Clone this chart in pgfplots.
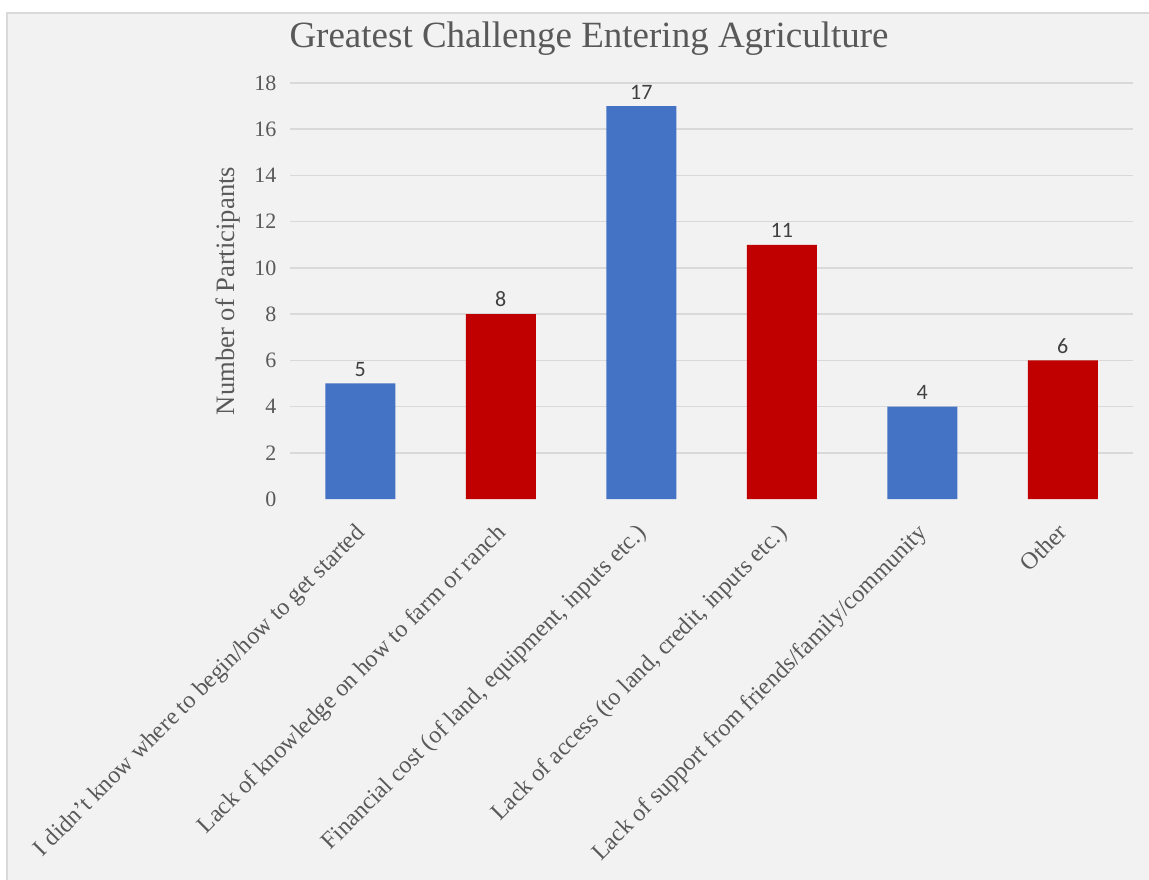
\documentclass[border=0pt]{standalone}
\usepackage{pgfplots}
\pgfplotsset{compat=1.18}
\usepackage{fontspec}
\setmainfont{Liberation Serif}
\newfontfamily\calibri{Carlito}
\definecolor{bgc}{HTML}{F2F2F2}
\definecolor{bordc}{HTML}{D9D9D9}
\definecolor{gridc}{HTML}{D9D9D9}
\definecolor{txt}{HTML}{595959}
\definecolor{lbl}{HTML}{404040}
\definecolor{cblue}{HTML}{4472C4}
\definecolor{cred}{HTML}{C00000}
\begin{document}
\begin{tikzpicture}
\useasboundingbox (0,0) rectangle (574.5pt,439.5pt);
\fill[white] (0,0) rectangle (574.5pt,439.5pt);
\filldraw[fill=bgc, draw=bordc, line width=0.6pt] (3.5pt,-1pt) rectangle (576pt,433pt);
\begin{axis}[
  at={(145pt,190pt)}, anchor=south west,
  scale only axis, width=421.5pt, height=208pt,
  ybar, bar width=35pt,
  xmin=-0.5, xmax=5.5, ymin=0, ymax=18,
  axis line style={draw=none},
  xtick style={draw=none}, ytick style={draw=none},
  xtick={0,...,5},
  xticklabels={I didn’t know where to begin/how to get started,
               Lack of knowledge on how to farm or ranch,
               {Financial cost (of land, equipment, inputs etc.)},
               {Lack of access (to land, credit, inputs etc.)},
               Lack of support from friends/family/community,
               Other},
  ytick={2,4,...,18},
  extra y ticks={0}, extra y tick style={grid=none},
  ymajorgrids, grid style={color=gridc, line width=0.75pt},
  /pgf/number format/assume math mode=true,
  yticklabel style={font=\fontsize{11}{13}\selectfont, text=txt, xshift=-3.3pt},
  xticklabel style={font=\fontsize{12}{14}\selectfont, text=txt, rotate=45, anchor=north east, inner sep=0pt, yshift=-2.9pt, xshift=-7.2pt},
  title={Greatest Challenge Entering Agriculture},
  title style={at={(axis description cs:0.3547,1.0865)}, anchor=base, yshift=-6pt, font=\fontsize{18.5}{22}\selectfont, text=txt},
  ylabel={Number of Participants},
  ylabel style={at={(axis description cs:-0.0735,0.5)}, anchor=center, font=\fontsize{13.3}{16}\selectfont, text=txt},
  nodes near coords,
  every node near coord/.append style={font=\calibri\fontsize{11}{13}\selectfont, text=lbl},
]
\addplot[fill=cblue, draw=none, bar shift=0pt] coordinates {(0,5) (2,17) (4,4)};
\addplot[fill=cred, draw=none, bar shift=0pt] coordinates {(1,8) (3,11) (5,6)};
\end{axis}
\end{tikzpicture}
\end{document}
